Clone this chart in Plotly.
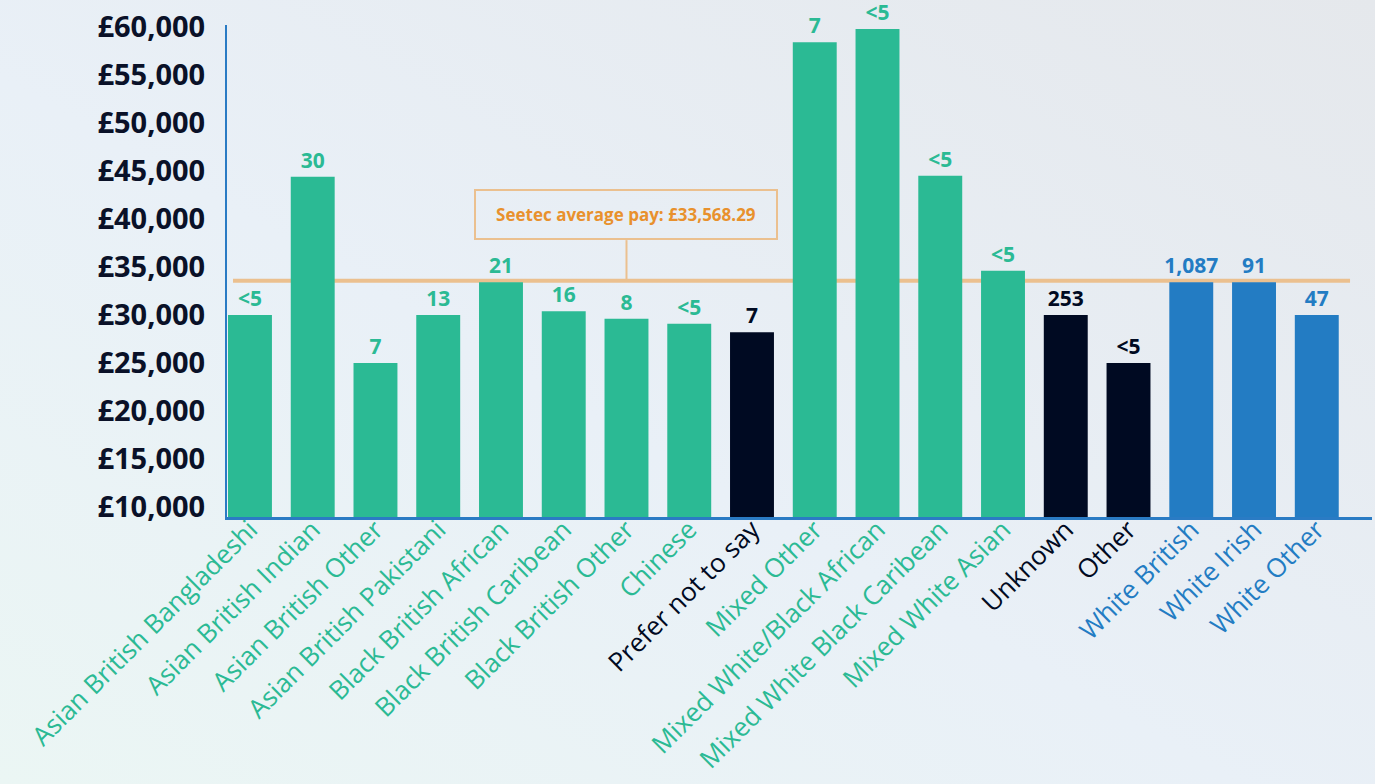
import base64
import plotly.graph_objects as go

categories = ["Asian British Bangladeshi", "Asian British Indian", "Asian British Other",
              "Asian British Pakistani", "Black British African", "Black British Caribean",
              "Black British Other", "Chinese", "Prefer not to say", "Mixed Other",
              "Mixed White/Black African", "Mixed White Black Caribean", "Mixed White Asian",
              "Unknown", "Other", "White British", "White Irish", "White Other"]
avg_pay = [30000, 44400, 25000, 30000, 33400, 30400, 29600, 29100, 28200, 58400,
           59800, 44500, 34600, 30000, 25000, 33400, 33400, 30000]
headcount = ["<5", "30", "7", "13", "21", "16", "8", "<5", "7", "7",
             "<5", "<5", "<5", "253", "<5", "1,087", "91", "47"]
group = ["g", "g", "g", "g", "g", "g", "g", "g", "n", "g",
         "g", "g", "g", "n", "n", "b", "b", "b"]
company_avg = 33568.29
y_ticks = [10000, 15000, 20000, 25000, 30000, 35000, 40000, 45000, 50000, 55000, 60000]

GREEN = "#2bba94"
NAVY = "#000a22"
BLUE = "#237cc3"
palette = {"g": GREEN, "n": NAVY, "b": BLUE}
colors = [palette[g] for g in group]

FONT = "Open Sans"

x = list(range(len(categories)))
ticktext = [f'<span style="color:{c}">{t}</span>' for t, c in zip(categories, colors)]

fig = go.Figure()
fig.add_trace(go.Bar(
    x=x, y=avg_pay, marker=dict(color=colors, line=dict(width=0)),
    width=0.7, text=headcount, textposition="outside", constraintext="none",
    textfont=dict(family=FONT, size=21, color=colors, weight="bold"),
    cliponaxis=False, hoverinfo="skip",
))

# background gradient
svg = """<svg xmlns='http://www.w3.org/2000/svg' width='1375' height='784' viewBox='0 0 1375 784'>
<defs>
<linearGradient id='a' x1='0' y1='1' x2='1' y2='0'>
<stop offset='0' stop-color='#ebf6f4'/>
<stop offset='0.45' stop-color='#e9f0f7'/>
<stop offset='1' stop-color='#e5e8ec'/>
</linearGradient>
</defs>
<rect width='1375' height='784' fill='url(#a)'/>
</svg>"""
src = "data:image/svg+xml;base64," + base64.b64encode(svg.encode()).decode()

L, R, T, B = 227, 3, 25, 267
W, H = 1375, 784
pw, ph = W - L - R, H - T - B

fig.add_layout_image(dict(source=src, xref="paper", yref="paper",
                          x=-L / pw, y=1 + T / ph, sizex=W / pw, sizey=H / ph,
                          xanchor="left", yanchor="top", sizing="stretch", layer="below"))

# average line
fig.add_shape(type="line", xref="x", yref="y", x0=-0.27, x1=17.53,
              y0=company_avg, y1=company_avg, line=dict(color="#ebc08f", width=4), layer="below")
fig.add_shape(type="line", xref="x", yref="y", x0=6, x1=6,
              y0=company_avg, y1=37800, line=dict(color="#ebc08f", width=2), layer="below")
fig.add_annotation(x=6, y=40420, xref="x", yref="y",
                   text=f"Seetec average pay: £{company_avg:,.2f}", showarrow=False,
                   font=dict(family=FONT, size=17, color="#e8912d", weight="bold"),
                   bordercolor="#ebc08f", borderwidth=2, width=298, height=45,
                   bgcolor="rgba(0,0,0,0)")

fig.update_layout(
    width=W, height=H,
    margin=dict(l=L, r=R, t=T, b=B, pad=0),
    paper_bgcolor="#e8eff6", plot_bgcolor="rgba(0,0,0,0)",
    showlegend=False,
    bargap=0.3,
    xaxis=dict(range=[-0.366, 17.88], tickmode="array", tickvals=x, ticktext=ticktext,
               tickangle=-45, showgrid=False, zeroline=False, showline=True,
               linecolor="#2a7bc4", linewidth=3, ticks="", automargin=False,
               ticklabelstandoff=-16,
               tickfont=dict(family=FONT, size=26)),
    yaxis=dict(range=[8958, 60208], tickmode="array", tickvals=y_ticks,
               ticktext=[f"£{v:,}" for v in y_ticks], showgrid=False, zeroline=False,
               showline=True, linecolor="#2a7bc4", linewidth=2, ticks="", ticklabelstandoff=14,
               automargin=False,
               tickfont=dict(family=FONT, size=29, color="#0a1128", weight="bold")),
)

fig.write_html("out.html", config={"displayModeBar": False},
               post_script="document.body.style.margin='0';document.body.style.padding='0';")
